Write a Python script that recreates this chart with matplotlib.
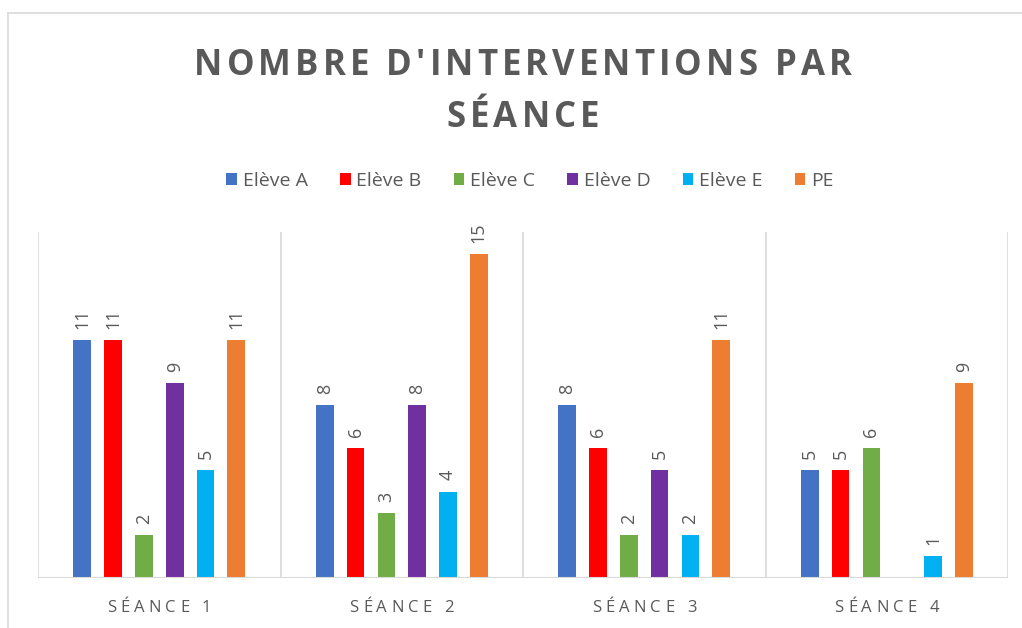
import numpy as np
import matplotlib
matplotlib.use('Agg')
import matplotlib.pyplot as plt
from matplotlib import transforms
from matplotlib.font_manager import FontProperties
from matplotlib.textpath import text_to_path
from matplotlib.patches import Patch
from matplotlib.lines import Line2D

# ---- data ----
categories = ["SÉANCE 1", "SÉANCE 2", "SÉANCE 3", "SÉANCE 4"]
series_names = ["Elève A", "Elève B", "Elève C", "Elève D", "Elève E", "PE"]
eleve_a = [11, 8, 8, 5]
eleve_b = [11, 6, 6, 5]
eleve_c = [2, 3, 2, 6]
eleve_d = [9, 8, 5, None]
eleve_e = [5, 4, 2, 1]
pe = [11, 15, 11, 9]
title_lines = ["NOMBRE D'INTERVENTIONS PAR", "SÉANCE"]
colors = ["#4472C4", "#FF0000", "#70AD47", "#7030A0", "#00B0F0", "#ED7D31"]

series = [eleve_a, eleve_b, eleve_c, eleve_d, eleve_e, pe]

FAMILY = "Open Sans"
TXT = "#595959"
GRID = "#D9D9D9"

W, H = 1022, 628
fig = plt.figure(figsize=(W / 100, H / 100), dpi=100)
fig.patch.set_facecolor("white")
ax = fig.add_axes([38 / W, 1 - 578 / H, (1008 - 38) / W, (578 - 232) / H])

n = len(series)
slot = 0.127
bw = 0.073
x = np.arange(len(categories))
for i, (vals, col) in enumerate(zip(series, colors)):
    v = np.array([np.nan if a is None else a for a in vals], dtype=float)
    xs = x + (i - (n - 1) / 2) * slot
    ax.bar(xs, v, width=bw, color=col, zorder=3)
    for xi, vi in zip(xs, v):
        if np.isnan(vi):
            continue
        ax.annotate(f"{int(vi)}", (xi, vi), xytext=(0, 8), textcoords="offset points",
                    rotation=90, ha="center", va="bottom", fontsize=13,
                    family=FAMILY, color=TXT)

ax.set_xlim(-0.5, len(categories) - 0.5)
ax.set_ylim(0, 16)
for b in np.arange(-0.5, len(categories), 1.0):
    ax.axvline(b, color=GRID, lw=1.2, zorder=1)
for s in ax.spines.values():
    s.set_visible(False)
ax.axhline(0, color=GRID, lw=1.5, zorder=4)
ax.set_xticks([])
ax.set_yticks([])
ax.patch.set_alpha(0)


def _w(s, fp):
    w, h, d = text_to_path.get_text_width_height_descent(s, fp, ismath=False)
    return w


def advance_pts(ch, fp):
    return _w("|" + ch + "|", fp) - _w("||", fp)


def spaced_text(xc, y, s, fp, spacing_pt, transform, color=TXT):
    widths = [advance_pts(c, fp) for c in s]
    total = sum(widths) + spacing_pt * (len(s) - 1)
    cur = -total / 2
    for c, w in zip(s, widths):
        if c != " ":
            tr = transforms.offset_copy(transform, fig=fig, x=cur, y=0, units="points")
            fig.text(xc, y, c, fontproperties=fp, color=color, ha="left", va="baseline",
                     transform=tr)
        cur += w + spacing_pt


# title
fp_title = FontProperties(family=FAMILY, weight="bold", size=25)
spaced_text(523 / W, 1 - 75 / H, title_lines[0], fp_title, 2.95, fig.transFigure)
spaced_text(523 / W, 1 - 127 / H, title_lines[1], fp_title, 2.95, fig.transFigure)

# category labels
fp_tick = FontProperties(family=FAMILY, size=12)
btr = transforms.blended_transform_factory(ax.transData, fig.transFigure)
for xi, c in zip(x, categories):
    spaced_text(xi, 1 - 612 / H, c, fp_tick, 3.0, btr)

# legend
handles = [Patch(facecolor=c, edgecolor="none") for c in colors]
fig.legend(handles, series_names, loc="center", bbox_to_anchor=(530 / W, 1 - 181 / H),
           ncol=6, frameon=False, handlelength=0.55, handleheight=0.55,
           handletextpad=0.3, columnspacing=1.65,
           prop=FontProperties(family=FAMILY, size=14), labelcolor=TXT)

# outer chart border
fig.add_artist(Line2D([8 / W, 8 / W], [0, 1 - 13 / H], transform=fig.transFigure,
                      color=GRID, lw=1.2))
fig.add_artist(Line2D([8 / W, 1], [1 - 13 / H, 1 - 13 / H], transform=fig.transFigure,
                      color=GRID, lw=1.2))

fig.savefig("out.png", dpi=100)
